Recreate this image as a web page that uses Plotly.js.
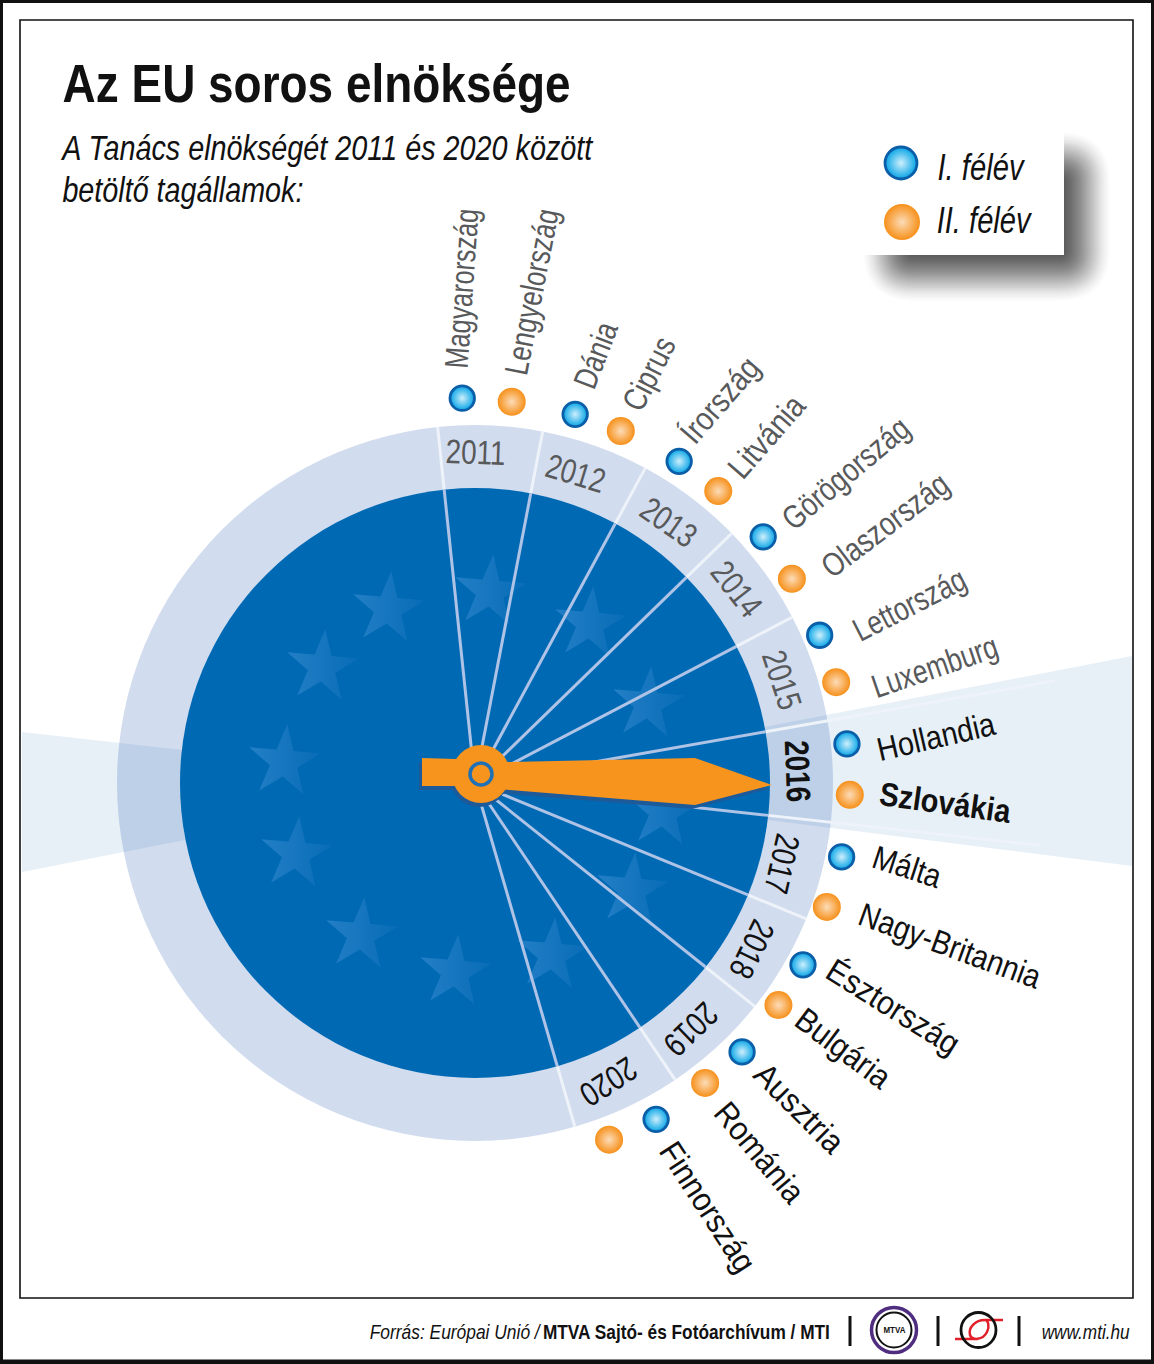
<!DOCTYPE html>
<html><head><meta charset="utf-8">
<script src="https://cdn.plot.ly/plotly-3.0.1.min.js"></script>
<style>html,body{margin:0;padding:0;background:#fff}#c{width:1154px;height:1364px}</style>
</head><body><div id="c"></div>
<script>
// ---- data ----
const countries = ["Magyarország","Lengyelország","Dánia","Ciprus","Írország","Litvánia","Görögország","Olaszország","Lettország","Luxemburg","Hollandia","Szlovákia","Málta","Nagy-Britannia","Észtország","Bulgária","Ausztria","Románia","Finnország",""];
const memberTheta = [-1.9,5.5,15.2,22.5,32.4,39.8,49.5,57.2,66.8,74.4,84,91.8,101.4,109.4,119,126.2,135.2,142.5,151.7,159.4];
const memberRadius = [385,383,382,381,381,380,379,377,375,375,374,375,374,373,375,376,379,378,382,381];
const years = ["2011","2012","2013","2014","2015","2016","2017","2018","2019","2020"];
const yearTheta = [0.1,18,36.6,53.5,71.5,87.9,104.7,121,138.8,156];
const yearRadius = [331,326,325,326,324,323,318,323,328,328];
const yearBoundaries = [-6,10.9,28.4,45.8,62.4,80,96.3,112.3,128.6,146,163.8];
const currentYear = "2016";
const currentMember = "Szlovákia";

// ---- layout helpers ----
const CX=475, CY=783, R_OUT=358, R_IN=295;
const pol=(t,r)=>{const a=t*Math.PI/180;return [CX+r*Math.sin(a),CY-r*Math.cos(a)];};
const BLUE='#0069b4', ORANGE='#f7941d', FONT='"Liberation Sans",Arial,sans-serif';
const traces=[];
const poly=(pts,fill)=>traces.push({x:pts.map(p=>p[0]).concat(pts[0][0]),y:pts.map(p=>p[1]).concat(pts[0][1]),mode:'lines',fill:'toself',fillcolor:fill,line:{width:0},hoverinfo:'skip'});
const seg=(a,b,color,w)=>traces.push({x:[a[0],b[0]],y:[a[1],b[1]],mode:'lines',line:{color:color,width:w},hoverinfo:'skip'});
const dot=(x,y,size,color)=>traces.push({x:[x],y:[y],mode:'markers',marker:{size:size,color:color,line:{width:0}},hoverinfo:'skip'});

// ring
dot(CX,CY,2*R_OUT,'#d1dcee');
// highlight wedges
poly([[CX,CY],[1132,656],[1132,866]],'rgba(0,95,170,0.095)');
poly([[CX,CY],[22,732],[22,872]],'rgba(0,95,170,0.095)');
// ring separators and beam edges
yearBoundaries.forEach(t=>{
  const far=(t===80)?589:(t===96.3)?568:R_OUT;
  seg(pol(t,R_IN),pol(t,far),'#eef2f9',3);
});
// disc
dot(CX,CY,2*R_IN,BLUE);
// stars
const starX=[388,322,284,296,361,455,552,632,663,648,590,490], starY=[609,667,762,854,935,972,955,890,812,704,624,592];
traces.push({x:starX,y:starY,mode:'markers',hoverinfo:'skip',marker:{symbol:'star',size:54,angle:5,color:'#237fc6',line:{width:0},gradient:{type:'horizontal',color:'#086cb6'}}});
// spokes on disc
yearBoundaries.forEach(t=>seg(pol(t,0),pol(t,R_IN),'#aec3e6',3));
// needle
const needle=[[422,758],[456,759],[510,762],[695,758],[772,785],[695,805],[510,790],[456,786],[422,786]];
poly(needle.map(p=>[p[0]-3,p[1]+4]),'#1d5a9a');
dot(479,778,58,'#1d5a9a');
poly(needle,ORANGE);
dot(481,774,58,ORANGE);
traces.push({x:[481],y:[774],mode:'markers',hoverinfo:'skip',marker:{size:22,color:ORANGE,line:{width:3.5,color:'#1f70b5'}}});
// member markers
const blueM=s=>({color:'#06a4e6',size:s,line:{width:2.8,color:'#0b5ea8'},gradient:{type:'radial',color:'#cdeffc'}});
const orangeM=s=>({color:'#f6901a',size:s,line:{width:0},gradient:{type:'radial',color:'#fcdcb8'}});
const mx=memberTheta.map((t,i)=>pol(t,memberRadius[i])[0]), my=memberTheta.map((t,i)=>pol(t,memberRadius[i])[1]);
traces.push({x:mx.filter((_,i)=>i%2==0),y:my.filter((_,i)=>i%2==0),mode:'markers',hoverinfo:'skip',marker:blueM(24.5)});
traces.push({x:mx.filter((_,i)=>i%2==1),y:my.filter((_,i)=>i%2==1),mode:'markers',hoverinfo:'skip',marker:orangeM(28)});
// legend markers
traces.push({x:[901],y:[163],mode:'markers',hoverinfo:'skip',marker:blueM(32)});
traces.push({x:[902],y:[222],mode:'markers',hoverinfo:'skip',marker:orangeM(36)});

// shapes: frame, legend box with soft shadow, footer marks
const shapes=[];
const rect=(x0,y0,x1,y1,o)=>shapes.push(Object.assign({type:'rect',xref:'x',yref:'y',x0,y0,x1,y1,line:{width:0}},o));
rect(20,20,1133,1298,{line:{color:'#111',width:1.6},fillcolor:'rgba(0,0,0,0)'});
for(let i=0;i<34;i++){
  const d=25-i*1.45, r=Math.max(d+26,2);
  const x0=888-d,x1=1085+d,y0=157-d,y1=276+d;
  shapes.push({type:'path',xref:'x',yref:'y',layer:'below',line:{width:0},fillcolor:`rgba(0,0,0,${(0.012+0.024*Math.min(i,17)/17).toFixed(4)})`,
    path:`M ${x0+r} ${y0} L ${x1-r} ${y0} Q ${x1} ${y0} ${x1} ${y0+r} L ${x1} ${y1-r} Q ${x1} ${y1} ${x1-r} ${y1} L ${x0+r} ${y1} Q ${x0} ${y1} ${x0} ${y1-r} L ${x0} ${y0+r} Q ${x0} ${y0} ${x0+r} ${y0} Z`});
}
rect(853,130,1064,255,{fillcolor:'#fff',layer:'below'});
rect(1.5,1.5,1152.5,1361,{line:{color:'#111',width:3},fillcolor:'rgba(0,0,0,0)'});
rect(0,1360,1154,1364,{fillcolor:'#111'});
[850,938,1019].forEach(x=>shapes.push({type:'line',xref:'x',yref:'y',x0:x,x1:x,y0:1316,y1:1346,line:{color:'#111',width:3}}));
const circ=(x,y,r,color,w)=>shapes.push({type:'circle',xref:'x',yref:'y',x0:x-r,x1:x+r,y0:y-r,y1:y+r,line:{color,width:w},fillcolor:'rgba(0,0,0,0)'});
circ(894,1330,22.5,'#4f2d7f',3.5); circ(894,1330,17.5,'#111',2);
shapes.push({type:'path',xref:'x',yref:'y',line:{color:'#e2202c',width:2.5},path:'M 1003 1320 L 985 1320 C 975 1320 968 1328 970 1335 C 972 1341 983 1340 987 1332 C 990 1326 988 1320 985 1320 M 955 1339 L 978 1339'});
circ(978.5,1330,17.5,'#111',2.8);

const ann=[], textWidths=[];
const txt=(x,y,text,size,color,angle,width)=>{
  ann.push({xref:'x',yref:'y',x,y,text,showarrow:false,textangle:angle||0,xanchor:'center',yanchor:'middle',font:{family:FONT,size,color}});
  textWidths.push(width||0);
};
txt(316,83,'<b>Az EU soros elnöksége</b>',54,'#111',0,508);
txt(327,147,'<i>A Tanács elnökségét 2011 és 2020 között</i>',35,'#111',0,530);
txt(183,189,'<i>betöltő tagállamok:</i>',35,'#111',0,241);
txt(981,167,'<i>I. félév</i>',37,'#111',0,86);
txt(985,220,'<i>II. félév</i>',37,'#111',0,94);
const labelX=[461,531,595,648,719,766,845,884,909,934,936,945,907,950,893,844,800,760,708];
const labelY=[289,292,355,374,400,436,473,525,604,666,736,802,866,945,1006,1048,1108,1152,1206];
const labelA=[-86,-79,-69,-63,-49,-49,-40,-37,-27,-19,-13,8,18,20,32,37,45,50,57];
const labelW=[160,168,68,78,102,98,155,150,122,131,120,132,70,191,150,110,112,120,148];
labelX.forEach((x,i)=>{
  const c=countries[i], bold=c===currentMember;
  txt(x,labelY[i],bold?`<b>${c}</b>`:c,33,i<10?'#58595b':'#111',labelA[i],labelW[i]);
});
const yearA=[2,17,35,52,72,88,103,116,136,147];
years.forEach((y,i)=>{
  const p=pol(yearTheta[i],yearRadius[i]), cur=y===currentYear;
  txt(p[0],p[1],cur?`<b>${y}</b>`:y,34,i<5?'#58595b':'#111',yearA[i],cur?62:60);
});
txt(456,1331,'<i>Forrás: Európai Unió /</i>',21,'#111',0,170);
txt(686,1331,'<b>MTVA Sajtó- és Fotóarchívum / MTI</b>',21,'#111',0,287);
txt(1086,1331,'<i>www.mti.hu</i>',21,'#111',0,88);
txt(894,1330,'<b>MTVA</b>',9,'#111',0,22);

const layout={
  width:1154,height:1364,margin:{l:0,r:0,t:0,b:0},paper_bgcolor:'#fff',plot_bgcolor:'#fff',showlegend:false,hovermode:false,
  xaxis:{range:[0,1154],visible:false,fixedrange:true},
  yaxis:{range:[1364,0],visible:false,fixedrange:true},
  shapes,annotations:ann
};
Plotly.newPlot('c',traces,layout,{displayModeBar:false,staticPlot:true}).then(gd=>{
  // no condensed face is installed: condense the real text to the reference's run length
  gd.querySelectorAll('text.annotation-text').forEach((el,i)=>{
    if(!textWidths[i]) return;
    el.setAttribute('textLength',textWidths[i]);el.setAttribute('lengthAdjust','spacingAndGlyphs');
    const r=el.parentNode.querySelector('rect');
    if(r){const w=+r.getAttribute('width'),x=+r.getAttribute('x')||0;
      r.setAttribute('x',x+(w-textWidths[i])/2);r.setAttribute('width',textWidths[i]);}
  });
});
</script></body></html>
